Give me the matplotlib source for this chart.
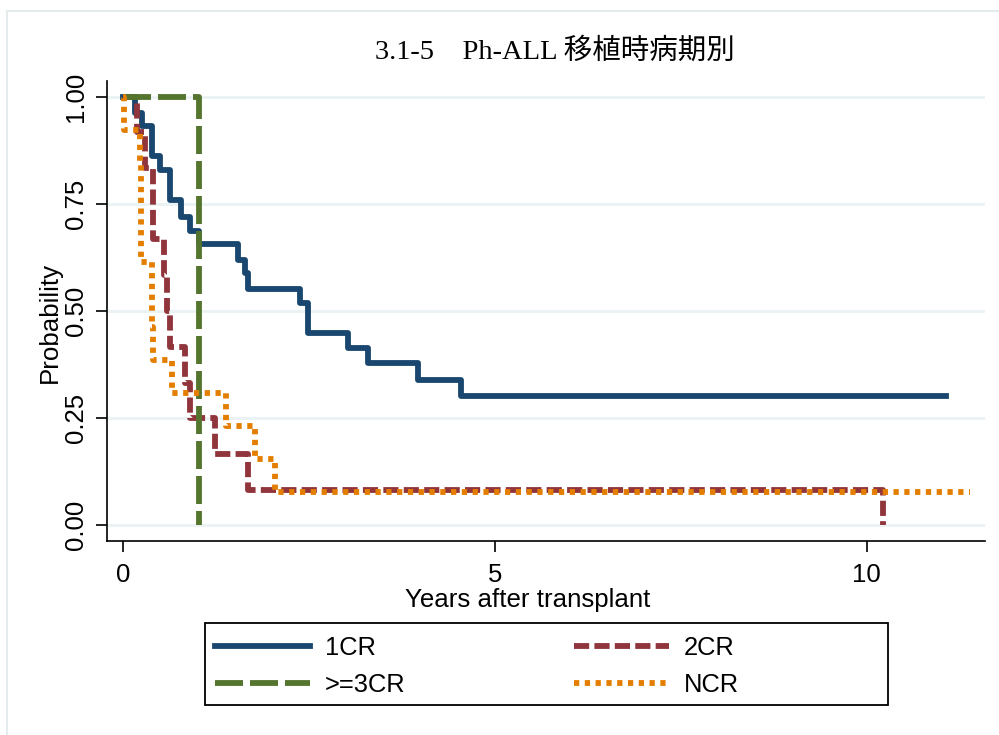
import numpy as np
import matplotlib
matplotlib.use('Agg')
import matplotlib.pyplot as plt
from matplotlib.patches import Rectangle

plt.rcParams['font.family'] = ['Liberation Sans', 'Noto Sans CJK JP']

# Kaplan-Meier steps (time in years, survival probability)
t_1cr = [0, 0.165, 0.255, 0.39, 0.50, 0.64, 0.79, 0.90, 1.02, 1.55, 1.64, 1.69, 2.38, 2.49, 3.03, 3.30, 3.97, 4.55, 11.06]
s_1cr = [1.0, 0.963, 0.932, 0.862, 0.829, 0.759, 0.72, 0.686, 0.657, 0.619, 0.588, 0.551, 0.518, 0.448, 0.414, 0.378, 0.339, 0.302, 0.302]

t_2cr = [0, 0.19, 0.30, 0.41, 0.56, 0.60, 0.64, 0.84, 0.91, 1.24, 1.69, 10.22]
s_2cr = [1.0, 0.917, 0.833, 0.667, 0.583, 0.5, 0.417, 0.333, 0.25, 0.167, 0.083, 0.0]

t_3cr = [0, 1.03]
s_3cr = [1.0, 0.0]

t_ncr = [0, 0.02, 0.23, 0.24, 0.245, 0.25, 0.39, 0.40, 0.41, 0.66, 1.39, 1.78, 2.05, 11.39]
s_ncr = [1.0, 0.923, 0.846, 0.769, 0.692, 0.615, 0.538, 0.462, 0.385, 0.308, 0.231, 0.154, 0.077, 0.077]

labels = ['1CR', '2CR', '>=3CR', 'NCR']
colors = ['#1A476F', '#90353B', '#55752F', '#E37E00']

x_ticks = [0, 5, 10]
y_ticks = [0.0, 0.25, 0.5, 0.75, 1.0]

fig = plt.figure(figsize=(9.99, 7.35), dpi=100)
ax = fig.add_axes([107 / 999, 194 / 735, 878 / 999, 460 / 735])

lw = 4.2
l1, = ax.step(t_1cr, s_1cr, where='post', color=colors[0], lw=lw, label=labels[0])
l2, = ax.step(t_2cr, s_2cr, where='post', color=colors[1], lw=lw, label=labels[1],
              linestyle=(0, (2.6, 0.9)), dash_capstyle='butt')
l3, = ax.step(t_3cr, s_3cr, where='post', color=colors[2], lw=lw, label=labels[2],
              linestyle=(0, (4.8, 1.2)), dash_capstyle='butt')
l4, = ax.step(t_ncr, s_ncr, where='post', color=colors[3], lw=lw, label=labels[3],
              linestyle=(0, (0.9, 0.95)), dash_capstyle='butt')

ax.set_xlim(-0.211, 11.59)
ax.set_ylim(-0.037, 1.037)
ax.set_xticks(x_ticks)
ax.set_yticks(y_ticks)
ax.set_yticklabels(['%.2f' % v for v in y_ticks], rotation=90, va='center')
ax.tick_params(axis='both', labelsize=18.5, length=8, width=1.2, direction='out')
ax.tick_params(axis='y', pad=6)
ax.tick_params(axis='x', pad=8)
ax.grid(axis='y', color='#EAF2F3', lw=2)
ax.set_axisbelow(True)
for s in ['top', 'right']:
    ax.spines[s].set_visible(False)
for s in ['left', 'bottom']:
    ax.spines[s].set_linewidth(1.2)

ax.set_xlabel('Years after transplant', fontsize=18.6)
ax.xaxis.set_label_coords(0.479, -0.103)
ax.set_ylabel('Probability', fontsize=18.6)
ax.yaxis.set_label_coords(-0.051, 0.476)

fig.text(555 / 999, 1 - 51 / 735, '3.1-5\u3000Ph-ALL 移植時病期別', ha='center', va='center',
         fontsize=20.5, family=['Liberation Serif', 'Noto Sans CJK JP'])

# legend, row-wise like the original
leg = fig.legend([l1, l3, l2, l4], [labels[0], labels[2], labels[1], labels[3]], ncol=2,
                 loc='upper left', bbox_to_anchor=(215 / 999, 1 - 636 / 735),
                 frameon=False, fontsize=18.4, handlelength=3.7, handletextpad=0.6,
                 columnspacing=6.6, labelspacing=0.5, borderpad=0, borderaxespad=0)
fig.patches.append(Rectangle((205 / 999, 1 - 705 / 735), 683 / 999, 82 / 735,
                             transform=fig.transFigure, fill=False, edgecolor='black', lw=1.3))

# outer frame of the graph region
fig.patches.append(Rectangle((7 / 999, -0.05), 1.1, 1.05 - 11 / 735,
                             transform=fig.transFigure, fill=False, edgecolor='#E4ECEE', lw=1.5))

fig.savefig('out.png', dpi=100)
